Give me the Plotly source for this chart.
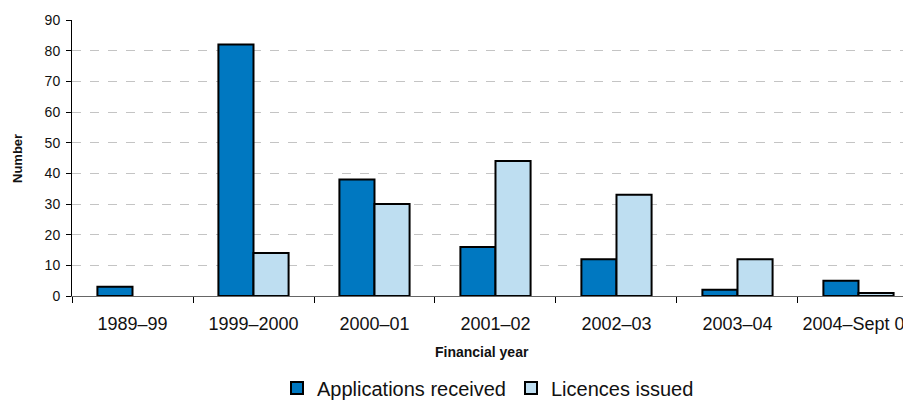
import plotly.graph_objects as go

categories = ["1989–99", "1999–2000", "2000–01", "2001–02", "2002–03", "2003–04", "2004–Sept 04"]
applications = [3, 82, 38, 16, 12, 2, 5]
licences = [None, 14, 30, 44, 33, 12, 1]

font = "Liberation Sans, Arial, Helvetica, sans-serif"

fig = go.Figure()
fig.add_bar(x=categories, y=applications, name="Applications received",
            marker=dict(color="#0078C1", line=dict(color="#000000", width=2)))
fig.add_bar(x=categories, y=licences, name="Licences issued",
            marker=dict(color="#BEDEF1", line=dict(color="#000000", width=2)))

# page body has an 8px default margin, so the figure is sized to fit the window
fig.update_layout(
    width=903, height=392,
    margin=dict(l=64, r=0, t=12, b=104),
    plot_bgcolor="white", paper_bgcolor="white",
    barmode="group", bargap=0.42, bargroupgap=0,
    font=dict(family=font, size=13, color="#111111"),
    showlegend=True,
    legend=dict(orientation="h", xref="container", yref="container",
                x=(488 - 8) / 903, xanchor="center", y=12 / 392, yanchor="middle",
                font=dict(size=20), itemwidth=30, tracegroupgap=0, itemsizing="constant"),
    xaxis=dict(
        type="category", range=[-0.5, 6.434], automargin=False,
        showline=True, linecolor="#666666", linewidth=1,
        ticks="outside", tickson="boundaries", ticklen=6, tickcolor="#000000",
        showgrid=False, ticklabelstandoff=11,
        tickfont=dict(size=18),
    ),
    yaxis=dict(
        range=[0, 90], dtick=10, automargin=False,
        showline=True, linecolor="#000000", linewidth=1,
        ticks="outside", ticklen=5, tickcolor="#000000",
        showgrid=True, gridcolor="#C4C4C4", griddash="dash", gridwidth=1,
        zeroline=False, ticklabelstandoff=3,
        tickfont=dict(size=14),
    ),
    annotations=[
        dict(text="<b>Financial year</b>", xref="paper", yref="paper",
             x=(482 - 72) / 839, y=(296 - 352) / 276, xanchor="center", yanchor="middle",
             showarrow=False, font=dict(size=14, color="#111111")),
        dict(text="<b>Number</b>", xref="paper", yref="paper",
             x=(17 - 72) / 839, y=(296 - 158) / 276, xanchor="center", yanchor="middle",
             textangle=-90, showarrow=False, font=dict(size=13, color="#111111")),
    ],
)

fig.write_html("out.html")
